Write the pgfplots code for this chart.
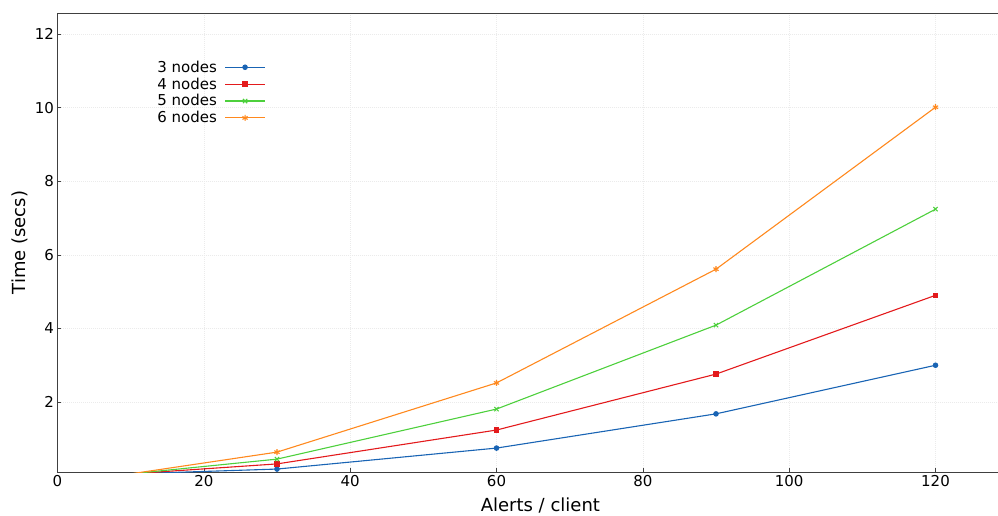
\documentclass[border=0pt]{standalone}
\usepackage{fontspec}
\setmainfont{DejaVu Sans}
\usepackage{pgfplots}
\pgfplotsset{compat=1.18}
\definecolor{cblue}{RGB}{25,100,180}
\definecolor{cred}{RGB}{227,26,28}
\definecolor{cgreen}{RGB}{77,208,60}
\definecolor{corange}{RGB}{255,137,30}
\begin{document}
\begin{tikzpicture}
\path[use as bounding box] (-57.5pt,-43pt) rectangle (940.5pt,472pt);
\begin{axis}[
  scale only axis,
  width=965.8pt, height=459pt,
  xmin=0, xmax=132, ymin=0.1, ymax=12.57,
  xtick={0,20,40,60,80,100,120},
  ytick={2,4,6,8,10,12},
  xtick pos=bottom, ytick pos=left,
  tick align=inside, major tick length=4pt,
  grid=major,
  major grid style={black!8, dash pattern=on 1pt off 1pt},
  axis line style={black!75, line width=0.9pt},
  tick style={black!75},
  /pgf/number format/assume math mode=true,
  ticklabel style={font=\fontsize{15}{18}\selectfont},
  xlabel={Alerts / client}, ylabel={Time (secs)},
  label style={font=\fontsize{18}{21}\selectfont},
  xlabel style={yshift=-4pt},
  ylabel style={yshift=0pt},
  legend plot pos=right,
  legend cell align=right,
  legend style={draw=none, fill=none, at={(rel axis cs:0.098,0.905)}, anchor=north west,
    font=\fontsize{15}{17}\selectfont, row sep=0pt},
  legend image code/.code={\path (0cm,0cm); \draw[mark repeat=2,mark phase=2] plot coordinates {(0.2cm,0cm)(0.9cm,0cm)(1.6cm,0cm)};},
  every axis plot/.append style={line width=1.1pt},
]
\addplot[cblue, mark=*, mark size=2.2pt] coordinates {(10,0.05)(30,0.18)(60,0.75)(90,1.68)(120,3.0)};
\addlegendentry{3 nodes}
\addplot[cred, mark=square*, mark size=2.2pt] coordinates {(10,0.05)(30,0.32)(60,1.24)(90,2.76)(120,4.9)};
\addlegendentry{4 nodes}
\addplot[cgreen, mark=x, mark size=3pt] coordinates {(10,0.05)(30,0.45)(60,1.81)(90,4.09)(120,7.24)};
\addlegendentry{5 nodes}
\addplot[corange, mark=asterisk, mark size=3pt] coordinates {(10,0.05)(30,0.64)(60,2.52)(90,5.61)(120,10.01)};
\addlegendentry{6 nodes}
\end{axis}
\end{tikzpicture}
\end{document}
